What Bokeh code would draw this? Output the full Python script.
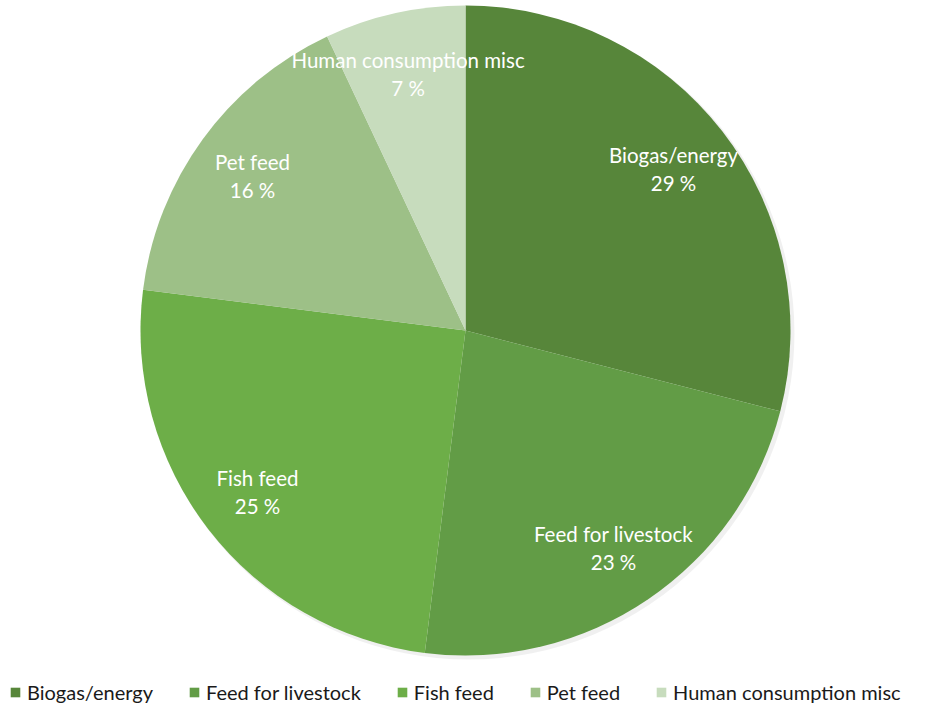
import math
from bokeh.plotting import figure
from bokeh.models import ColumnDataSource, Legend, LegendItem
from bokeh.core.properties import value
from bokeh.embed import file_html
from bokeh.resources import INLINE

categories = ["Biogas/energy", "Feed for livestock", "Fish feed", "Pet feed", "Human consumption misc"]
shares = [29, 23, 25, 16, 7]
colors = ["#57863a", "#629c46", "#6dae48", "#9dc087", "#c7dcbd"]

W, H = 912, 704
CX, CY, R = 465, 374, 325
LABEL_FRAC = 0.81

total = sum(shares)
starts, ends, lx, ly, pct = [], [], [], [], []
cum = 0.0
for s in shares:
    a0 = math.pi / 2 - 2 * math.pi * (cum + s) / total
    a1 = math.pi / 2 - 2 * math.pi * cum / total
    starts.append(a0)
    ends.append(a1)
    mid = (a0 + a1) / 2
    lx.append(CX + LABEL_FRAC * R * math.cos(mid))
    ly.append(CY + LABEL_FRAC * R * math.sin(mid))
    pct.append(f"{s} %")
    cum += s

src = ColumnDataSource(dict(cat=categories, start=starts, end=ends, color=colors,
                            lx=lx, ly=ly, pct=pct))

p = figure(width=W, height=H, x_range=(0, W), y_range=(0, H),
           output_backend="svg", toolbar_location=None, min_border=0)
p.axis.visible = False
p.grid.visible = False
p.outline_line_color = None
p.background_fill_color = "white"

# faint outer shadow
p.wedge(x=CX + 3, y=CY - 3, radius=R + 1, start_angle=0, end_angle=2 * math.pi,
        fill_color="#000000", fill_alpha=0.06, line_color=None)

renderers = []
for i in range(len(categories)):
    r = p.wedge(x=CX, y=CY, radius=R, start_angle=starts[i], end_angle=ends[i],
                fill_color=colors[i], line_color=None)
    renderers.append(r)

p.text(x="lx", y="ly", text="cat", source=src, text_color="white",
       text_font=value("Lato"), text_font_size="20.5px", text_align="center",
       text_baseline="middle", y_offset=-14)
p.text(x="lx", y="ly", text="pct", source=src, text_color="white",
       text_font=value("Lato"), text_font_size="20.5px", text_align="center",
       text_baseline="middle", y_offset=14)

legend = Legend(items=[LegendItem(label=c, renderers=[r]) for c, r in zip(categories, renderers)],
                orientation="horizontal", location=(9, 0),
                glyph_width=12, glyph_height=12, label_standoff=6, spacing=35,
                padding=0, margin=0, border_line_color=None, background_fill_alpha=0,
                label_text_font="Lato", label_text_font_size="20px",
                label_text_color="#1a1a1a")
p.add_layout(legend)

open("out.html", "w").write(file_html(p, INLINE))
